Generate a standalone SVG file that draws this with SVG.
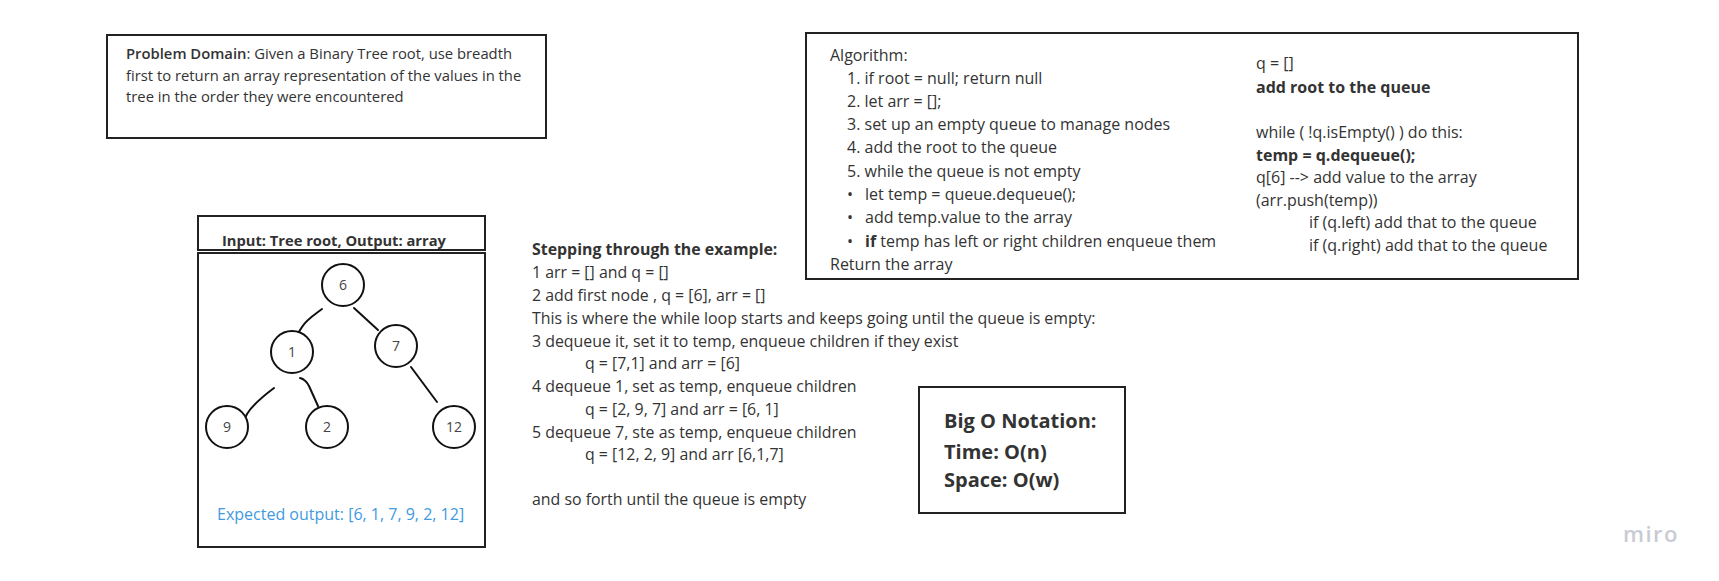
<svg xmlns="http://www.w3.org/2000/svg" width="1719" height="581" viewBox="0 0 1719 581">
<style>
  .box { fill: #ffffff; stroke: #222222; stroke-width: 2; }
  .t { font-family: "Open Sans", "Liberation Sans", sans-serif; fill: #333333; }
  .b { font-weight: bold; }
  .node circle { fill: #ffffff; stroke: #111111; stroke-width: 2; }
  .node text { font-family: "Open Sans", "Liberation Sans", sans-serif; font-size: 14px; fill: #444444; text-anchor: middle; }
  .edge { fill: none; stroke: #111111; stroke-width: 2; stroke-linecap: round; }
</style>
<rect width="1719" height="581" fill="#ffffff"/>

<g id="problem-domain">
  <rect class="box" x="107" y="35" width="439" height="103"/>
  <text class="t" font-size="14.8" x="126" y="59"><tspan font-weight="600">Problem Domain</tspan>: Given a Binary Tree root, use breadth</text>
  <text class="t" font-size="14.8" x="126" y="81">first to return an array representation of the values in the</text>
  <text class="t" font-size="14.8" x="126" y="102">tree in the order they were encountered</text>
</g>

<g id="algorithm">
  <rect class="box" x="806" y="33" width="772" height="246"/>
  <g class="t" font-size="16">
    <text x="830" y="61">Algorithm:</text>
    <text x="847" y="84">1. if root = null; return null</text>
    <text x="847" y="107">2. let arr = [];</text>
    <text x="847" y="130">3. set up an empty queue to manage nodes</text>
    <text x="847" y="153">4. add the root to the queue</text>
    <text x="847" y="177">5. while the queue is not empty</text>
    <text x="847" y="200">•</text>
    <text x="865" y="200">let temp = queue.dequeue();</text>
    <text x="847" y="223">•</text>
    <text x="865" y="223">add temp.value to the array</text>
    <text x="847" y="247">•</text>
    <text x="865" y="247"><tspan class="b">if</tspan> temp has left or right children enqueue them</text>
    <text x="830" y="270">Return the array</text>
  </g>
  <g class="t" font-size="16">
    <text x="1256" y="69">q = []</text>
    <text class="b" x="1256" y="93">add root to the queue</text>
    <text x="1256" y="138">while ( !q.isEmpty() ) do this:</text>
    <text class="b" x="1256" y="161">temp = q.dequeue();</text>
    <text x="1256" y="183">q[6] --&gt; add value to the array</text>
    <text x="1256" y="206">(arr.push(temp))</text>
    <text x="1309" y="228">if (q.left) add that to the queue</text>
    <text x="1309" y="251">if (q.right) add that to the queue</text>
  </g>
</g>

<g id="io-header">
  <rect class="box" x="198" y="216" width="287" height="34"/>
  <text class="t b" font-size="14.7" x="222" y="246">Input: Tree root, Output: array</text>
</g>

<g id="io-body">
  <rect class="box" x="198" y="253" width="287" height="294"/>
  <text font-family="Open Sans, Liberation Sans, sans-serif" font-size="16" fill="#3f9ade" x="217" y="520">Expected output: [6, 1, 7, 9, 2, 12]</text>
</g>

<g id="connectors">
  <path class="edge" d="M322,309 C314,315 306,320 302,327 C299,332 296,336 293,340"/>
  <path class="edge" d="M354,308 L378,330"/>
  <path class="edge" d="M274,388 C262,397 252,406 247,414 C245,418 244,421 243,423"/>
  <path class="edge" d="M300,378 C304,379 307,382 309,386 L318,406"/>
  <path class="edge" d="M411,367 L437,402"/>
</g>

<g id="node-6" class="node"><circle cx="343" cy="285" r="21"/><text x="343" y="290">6</text></g>
<g id="node-1" class="node"><circle cx="292" cy="352" r="21"/><text x="292" y="357">1</text></g>
<g id="node-7" class="node"><circle cx="396" cy="346" r="21"/><text x="396" y="351">7</text></g>
<g id="node-9" class="node"><circle cx="227" cy="427" r="21"/><text x="227" y="432">9</text></g>
<g id="node-2" class="node"><circle cx="327" cy="427" r="21"/><text x="327" y="432">2</text></g>
<g id="node-12" class="node"><circle cx="454" cy="427" r="21"/><text x="454" y="432">12</text></g>

<g id="stepping" class="t" font-size="15.9">
  <text class="b" x="532" y="255">Stepping through the example:</text>
  <text x="532" y="278">1 arr = [] and q = []</text>
  <text x="532" y="301">2 add first node , q = [6], arr = []</text>
  <text x="532" y="324">This is where the while loop starts and keeps going until the queue is empty:</text>
  <text x="532" y="347">3 dequeue it, set it to temp, enqueue children if they exist</text>
  <text x="585" y="369">q = [7,1] and arr = [6]</text>
  <text x="532" y="392">4 dequeue 1, set as temp, enqueue children</text>
  <text x="585" y="415">q = [2, 9, 7] and arr = [6, 1]</text>
  <text x="532" y="438">5 dequeue 7, ste as temp, enqueue children</text>
  <text x="585" y="460">q = [12, 2, 9] and arr [6,1,7]</text>
  <text x="532" y="505">and so forth until the queue is empty</text>
</g>

<g id="big-o">
  <rect class="box" x="919" y="387" width="206" height="126"/>
  <g class="t b" font-size="20">
    <text x="944" y="428">Big O Notation:</text>
    <text x="944" y="459">Time: O(n)</text>
    <text x="944" y="487">Space: O(w)</text>
  </g>
</g>

<text font-family="Open Sans, Liberation Sans, sans-serif" font-size="22" font-weight="600" letter-spacing="1.5" fill="#c8cbd3" x="1623" y="542">miro</text>
</svg>
